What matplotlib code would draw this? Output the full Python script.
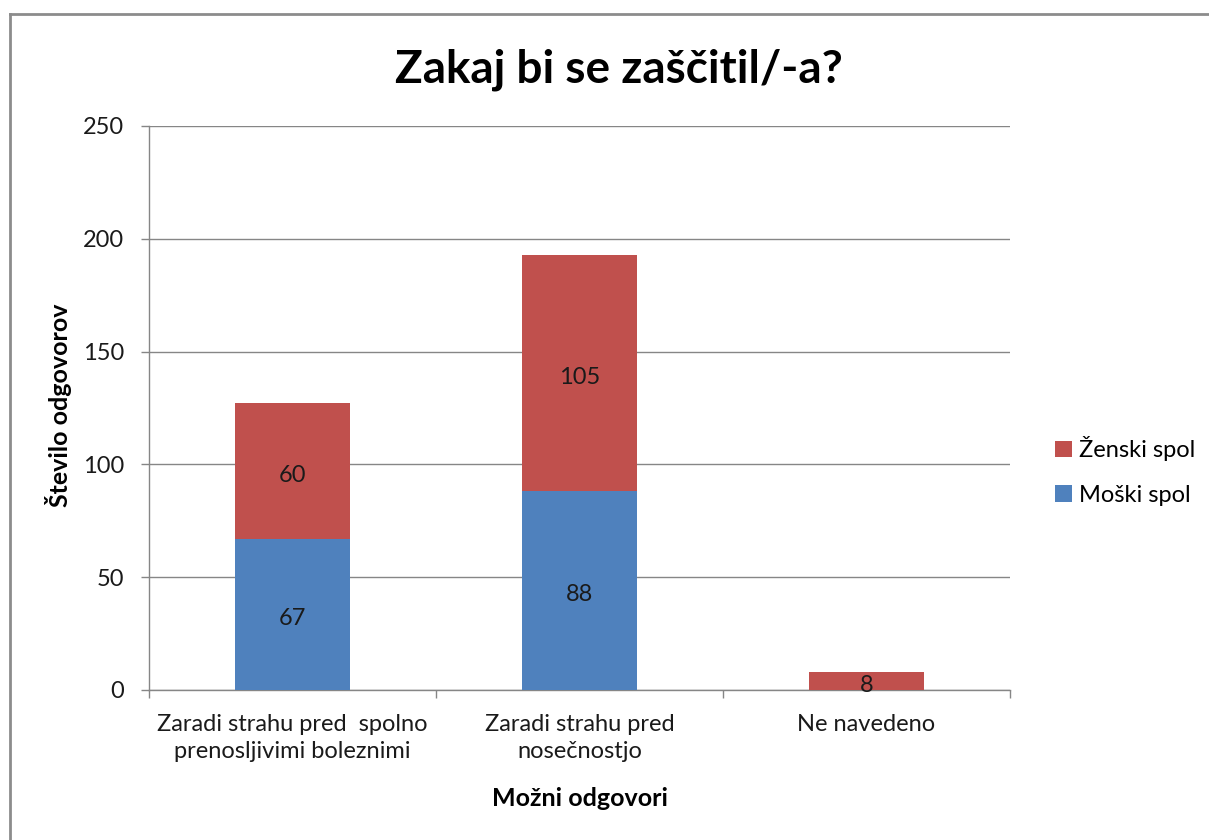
import matplotlib.pyplot as plt
from matplotlib.lines import Line2D

plt.rcParams['font.family'] = ['Lato', 'DejaVu Sans']

kategorije = ['Zaradi strahu pred  spolno\nprenosljivimi boleznimi',
              'Zaradi strahu pred\nnosečnostjo',
              'Ne navedeno']
moski = [67, 88, 0]
zenski = [60, 105, 8]
y_ticks = [0, 50, 100, 150, 200, 250]

modra = '#4F81BD'
rdeca = '#C0504D'
siva = '#868686'

fig = plt.figure(figsize=(12.09, 8.4), dpi=100)
ax = fig.add_axes([149/1209, 1 - 690/840, (1010-149)/1209, (690-126)/840])

x = list(range(len(kategorije)))
b1 = ax.bar(x, moski, width=0.4, color=modra, label='Moški spol', zorder=3)
b2 = ax.bar(x, zenski, width=0.4, bottom=moski, color=rdeca, label='Ženski spol', zorder=3)

ax.bar_label(b1, labels=[str(v) if v else '' for v in moski], label_type='center', fontsize=17,
             color='#1a1a1a', padding=-3)
ax.bar_label(b2, labels=[str(v) if v else '' for v in zenski], label_type='center', fontsize=17,
             color='#1a1a1a', padding=-3)

ax.set_xlim(-0.5, 2.5)
ax.set_ylim(0, 250)
ax.set_yticks(y_ticks)
ax.yaxis.grid(True, color=siva, lw=1, zorder=0)
ax.set_xticks(x)
ax.set_xticklabels(kategorije, fontsize=17, color='#1a1a1a', linespacing=1.35)
ax.set_xticks([-0.5, 0.5, 1.5, 2.5], minor=True)
ax.tick_params(axis='x', which='major', length=0, pad=17)
ax.tick_params(axis='x', which='minor', length=6, color=siva, width=1)
ax.tick_params(axis='y', length=6, color=siva, width=1, pad=12, labelsize=17, labelcolor='#1a1a1a')

for s in ['top', 'right']:
    ax.spines[s].set_visible(False)
for s in ['left', 'bottom']:
    ax.spines[s].set_color(siva)
    ax.spines[s].set_linewidth(1)

fig.text(0.512, 1 - 70/840, 'Zakaj bi se zaščitil/-a?', fontsize=33, fontweight='bold',
         ha='center', va='center')
fig.text(58/1209, 1 - 405/840, 'Število odgovorov', fontsize=18, fontweight='bold',
         rotation=90, ha='center', va='center')
fig.text(580/1209, 1 - 798/840, 'Možni odgovori', fontsize=18, fontweight='bold',
         ha='center', va='center')

fig.legend([b2, b1], ['Ženski spol', 'Moški spol'], loc='center left',
           bbox_to_anchor=(1034/1209, 1 - 471/840), frameon=False, fontsize=17,
           handlelength=0.7, handleheight=0.7, handletextpad=0.3, labelspacing=1.0)

# okvir grafikona (vidna sta le levi in zgornji rob)
fig.add_artist(Line2D([9.5/1209, 9.5/1209], [0, 1 - 13.5/840], transform=fig.transFigure,
                      color='#8c8c8c', lw=2))
fig.add_artist(Line2D([9.5/1209, 1], [1 - 13.5/840, 1 - 13.5/840], transform=fig.transFigure,
                      color='#8c8c8c', lw=2))

fig.savefig('out.png', dpi=100)
